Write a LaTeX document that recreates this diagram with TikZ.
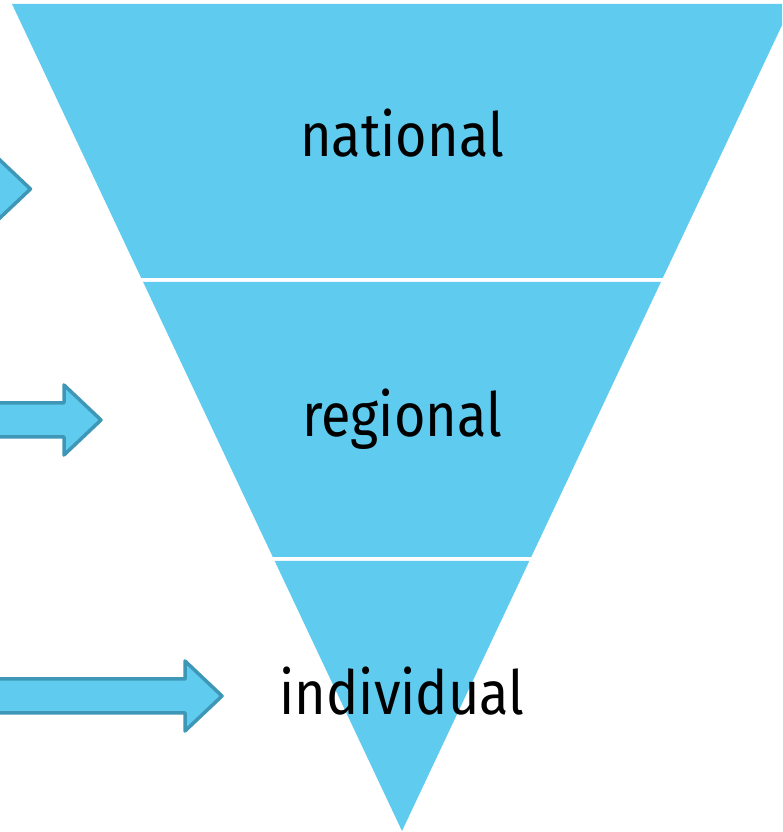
\documentclass[tikz,border=0pt]{standalone}
\usepackage{fontspec}
\setmainfont[FakeStretch=0.885]{Fira Sans}
\definecolor{bandblue}{HTML}{5FCBEF}
\definecolor{arrowline}{HTML}{3E97B6}
\begin{document}
\begin{tikzpicture}[x=1pt,y=1pt,
  band/.style={fill=bandblue,draw=none},
  lbl/.style={anchor=base,inner sep=0pt,font=\fontsize{61}{70}\selectfont,text=black},
  pics/bigarrow/.style={code={
    \draw[fill=bandblue,draw=arrowline,line width=3.5pt,line join=round]
      (-400,17) -- (-37,17) -- (-37,35) -- (0,0) -- (-37,-35) -- (-37,-17) -- (-400,-17) -- cycle;
  }}]
\useasboundingbox (0,0) rectangle (782,832);
\clip (0,0) rectangle (782,832);
% bands (y_tikz = 832 - y_px)
\path[band] (12,828) -- (792,828) -- (662.8,554) -- (141.2,554) -- cycle;
\path[band] (143.1,550) -- (660.9,550) -- (531.2,275) -- (272.8,275) -- cycle;
\path[band] (274.7,271) -- (529.3,271) -- (402,1) -- cycle;
% arrows
\pic at (30.5,643) {bigarrow};
\pic at (101,412) {bigarrow};
\pic at (222,136) {bigarrow};
% labels
\node[lbl] (national) at (402,675) {national};
\node[lbl] (regional) at (402,395) {regional};
\node[lbl] (individual) at (402,117) {individual};
\end{tikzpicture}
\end{document}
